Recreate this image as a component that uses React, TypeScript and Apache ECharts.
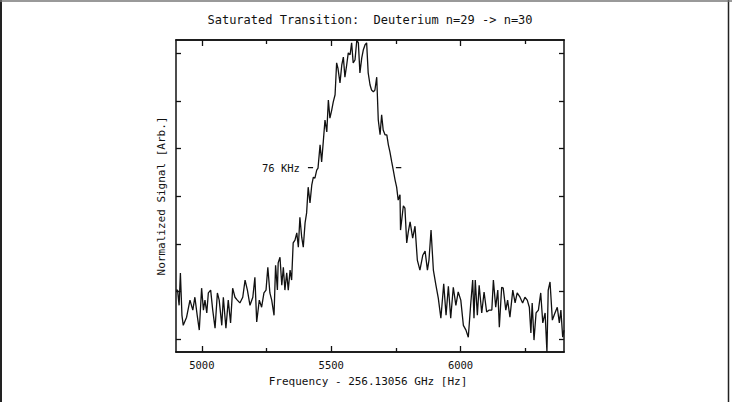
import React, { useEffect, useRef } from "react";
import * as echarts from "echarts";

// [frequency offset (Hz), normalized signal (arb.)]
const signal: [number, number][] = [
  [4900, 1.03], [4906, 1.03], [4912, 0.71], [4917, 1.39], [4923, 0.5], [4928, 0.29],
  [4941, 0.46], [4954, 0.82], [4965, 0.61], [4973, 0.88], [4982, 0.5], [4990, 0.19],
  [4999, 1.07], [5006, 0.61], [5012, 0.82], [5019, 0.55], [5025, 0.97], [5034, 1.03],
  [5042, 0.61], [5051, 0.23], [5060, 0.97], [5067, 0.82], [5077, 0.29], [5083, 0.88],
  [5093, 0.23], [5102, 0.82], [5111, 0.34], [5119, 1.07], [5128, 0.88], [5137, 0.82],
  [5147, 0.76], [5158, 0.88], [5167, 1.24], [5176, 1.03], [5186, 0.71], [5197, 0.88],
  [5205, 1.3], [5212, 0.36], [5222, 0.82], [5231, 0.67], [5240, 0.97], [5248, 1.03],
  [5255, 1.51], [5263, 0.97], [5270, 0.82], [5279, 0.5], [5285, 1.55], [5292, 1.03],
  [5295, 1.6], [5302, 1.72], [5309, 1.13], [5315, 1.51], [5321, 1.03], [5328, 1.39],
  [5334, 1.03], [5341, 1.45], [5347, 1.24], [5353, 2.02], [5360, 2.08], [5367, 2.23],
  [5373, 1.93], [5379, 2.56], [5386, 2.14], [5392, 1.93], [5399, 2.44], [5405, 2.65],
  [5411, 3.19], [5418, 2.86], [5425, 3.24], [5431, 3.4], [5437, 3.38], [5444, 3.55],
  [5449, 3.59], [5457, 4.08], [5463, 3.72], [5469, 4.12], [5476, 4.6], [5483, 4.35],
  [5489, 5.02], [5495, 4.64], [5502, 4.81], [5508, 4.98], [5515, 5.13], [5521, 5.8],
  [5526, 5.69], [5534, 5.38], [5541, 5.76], [5547, 5.92], [5553, 5.5], [5560, 5.76],
  [5566, 6.01], [5573, 5.97], [5579, 6.22], [5585, 5.8], [5592, 5.86], [5599, 6.28],
  [5605, 6.22], [5611, 5.59], [5618, 5.9], [5624, 6.07], [5631, 6.18], [5637, 6.22],
  [5643, 5.59], [5650, 5.34], [5656, 5.23], [5663, 5.19], [5669, 5.23], [5676, 5.5],
  [5682, 4.6], [5689, 4.29], [5695, 4.71], [5701, 4.39], [5708, 4.29], [5715, 4.29],
  [5721, 4.08], [5727, 3.93], [5734, 3.72], [5740, 3.55], [5747, 3.34], [5753, 3.19],
  [5759, 2.92], [5766, 3.03], [5768, 2.29], [5779, 2.8], [5785, 2.75], [5792, 2.02],
  [5798, 2.25], [5805, 2.46], [5815, 2.12], [5824, 2.37], [5833, 1.66], [5843, 1.45],
  [5854, 1.76], [5863, 1.85], [5872, 1.45], [5878, 1.66], [5886, 2.29], [5895, 1.45],
  [5905, 1.13], [5914, 0.86], [5924, 0.44], [5935, 1.16], [5944, 0.5], [5953, 1.11],
  [5962, 0.44], [5972, 1.09], [5982, 0.71], [5991, 0.99], [6001, 0.82], [6011, 0.29],
  [6021, 0.19], [6030, 0.04], [6039, 0.71], [6047, 1.24], [6052, 0.44], [6057, 1.24],
  [6065, 0.5], [6072, 1.13], [6082, 0.55], [6091, 0.99], [6101, 0.57], [6111, 0.61],
  [6121, 0.61], [6127, 1.24], [6136, 0.67], [6144, 1.03], [6150, 0.25], [6159, 1.09],
  [6165, 1.07], [6175, 0.61], [6182, 0.82], [6191, 0.46], [6202, 1.03], [6211, 0.76],
  [6219, 0.97], [6230, 0.88], [6240, 0.76], [6249, 0.88], [6258, 0.82], [6266, 0.67],
  [6272, 0.13], [6277, 0.76], [6284, -0.02], [6292, 0.55], [6301, 0.61], [6310, 0.97],
  [6318, 0.34], [6327, 0.55], [6334, -0.27], [6339, 1.03], [6346, 1.2], [6355, 0.4],
  [6365, 0.55], [6374, 0.67], [6382, 0.34], [6388, 0.61], [6395, 0.04], [6400, 0.19],
];

const xMajorTicks = [5000, 5500, 6000];
const xMinorTicks = [5250, 5750, 6250];
const yTicks = [0, 1, 2, 3, 4, 5, 6];
const fwhmLeft: [number, number][] = [[5410, 3.6], [5430, 3.6]];
const fwhmRight: [number, number][] = [[5750, 3.6], [5771, 3.6]];
const fwhmText = "76 KHz";
const titleText = "Saturated Transition:  Deuterium n=29 -> n=30";
const xName = "Frequency - 256.13056 GHz [Hz]";
const yName = "Normalized Signal [Arb.]";

const FONT = "DejaVu Sans Mono";
const INK = "#111";

export default function App() {
  const ref = useRef<HTMLDivElement>(null);
  useEffect(() => {
    if (!ref.current) return;
    const chart = echarts.init(ref.current, undefined, { renderer: "svg" });
    const xBase = {
      type: "value" as const,
      min: 4900,
      max: 6400,
      splitLine: { show: false },
      axisLine: { show: true, onZero: false, lineStyle: { color: INK, width: 1.5 } },
    };
    const yBase = {
      type: "value" as const,
      min: -0.27,
      max: 6.28,
      splitLine: { show: false },
      axisLabel: { show: false },
      axisLine: { show: true, onZero: false, lineStyle: { color: INK, width: 1.5 } },
      axisTick: { show: true, inside: true, length: 5, customValues: yTicks, lineStyle: { color: INK, width: 1.3 } },
    };
    chart.setOption({
      animation: false,
      backgroundColor: "#fff",
      grid: { left: 176, right: 168, top: 40, bottom: 50, containLabel: false },
      xAxis: [
        {
          ...xBase,
          position: "bottom",
          axisTick: { show: true, inside: true, length: 6, customValues: xMajorTicks, lineStyle: { color: INK, width: 1.3 } },
          axisLabel: {
            show: true,
            customValues: xMajorTicks,
            formatter: (v: number) => String(v),
            margin: 7,
            fontFamily: FONT,
            fontSize: 10.5,
            color: INK,
          },
        },
        {
          ...xBase,
          position: "bottom",
          axisLabel: { show: false },
          axisTick: { show: true, inside: true, length: 4, customValues: xMinorTicks, lineStyle: { color: INK, width: 1.3 } },
        },
        {
          ...xBase,
          position: "top",
          axisLabel: { show: false },
          axisTick: { show: true, inside: true, length: 6, customValues: xMajorTicks, lineStyle: { color: INK, width: 1.3 } },
        },
        {
          ...xBase,
          position: "top",
          axisLabel: { show: false },
          axisTick: { show: true, inside: true, length: 4, customValues: xMinorTicks, lineStyle: { color: INK, width: 1.3 } },
        },
      ],
      yAxis: [
        { ...yBase, position: "left" },
        { ...yBase, position: "right" },
      ],
      series: [
        {
          type: "line",
          data: signal,
          showSymbol: false,
          silent: true,
          lineStyle: { color: INK, width: 1.3 },
          clip: true,
        },
        {
          type: "line",
          data: fwhmLeft,
          showSymbol: false,
          silent: true,
          lineStyle: { color: INK, width: 1.3 },
        },
        {
          type: "line",
          data: fwhmRight,
          showSymbol: false,
          silent: true,
          lineStyle: { color: INK, width: 1.3 },
        },
        {
          type: "custom",
          data: [fwhmLeft[0]],
          silent: true,
          renderItem: (_params: any, api: any) => {
            const p = api.coord([api.value(0), api.value(1)]);
            return {
              type: "text",
              x: p[0] - 8,
              y: p[1],
              style: {
                text: fwhmText,
                fontFamily: FONT,
                fontSize: 10.5,
                fill: INK,
                align: "right",
                verticalAlign: "middle",
              },
            };
          },
        },
      ],
      graphic: [
        { type: "line", shape: { x1: 1, y1: 0, x2: 1, y2: 402 }, style: { stroke: "#222", lineWidth: 2 } },
        { type: "line", shape: { x1: 728.5, y1: 0, x2: 728.5, y2: 402 }, style: { stroke: "#222", lineWidth: 1.5 } },
        { type: "line", shape: { x1: 0, y1: 1, x2: 732, y2: 1 }, style: { stroke: "#777", lineWidth: 1.5 } },
        {
          type: "text",
          x: 370,
          y: 20,
          style: { text: titleText, fontFamily: FONT, fontSize: 12, fill: INK, align: "center", verticalAlign: "middle" },
        },
        {
          type: "text",
          x: 368,
          y: 381,
          style: { text: xName, fontFamily: FONT, fontSize: 11, fill: INK, align: "center", verticalAlign: "middle" },
        },
        {
          type: "text",
          x: 161,
          y: 196,
          rotation: Math.PI / 2,
          style: { text: yName, fontFamily: FONT, fontSize: 11, fill: INK, align: "center", verticalAlign: "middle" },
        },
      ],
    });
    return () => chart.dispose();
  }, []);
  return (
    <div
      ref={ref}
      style={{ position: "absolute", left: 0, top: 0, width: 732, height: 402, background: "#fff" }}
    />
  );
}
